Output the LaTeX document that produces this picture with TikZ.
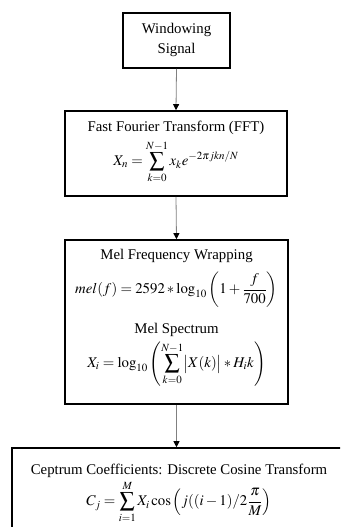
\documentclass[tikz,border=0pt]{standalone}
\usepackage{mathptmx}
\usepackage{fontspec}
\setmainfont{Liberation Serif}
\usetikzlibrary{arrows.meta}
\tikzset{
  blockbox/.style={draw=black, line width=1.6pt, fill=white},
  txt/.style={font=\fontsize{14.8}{16}\selectfont, inner sep=0pt, text=black},
  conn/.style={draw=gray, line width=0.8pt, -{Triangle[black,length=6pt,width=6pt]}}
}
\begin{document}
\begin{tikzpicture}[x=1pt,y=-1pt]
\useasboundingbox (0,0) rectangle (340,527);
\clip (0,0) rectangle (340,527);
\fill[white] (0,0) rectangle (340,527);
% boxes
\node[blockbox, minimum width=107pt, minimum height=55pt, inner sep=0pt] (b1) at (176.5,40.5) {};
\node[blockbox, minimum width=222pt, minimum height=85pt, inner sep=0pt] (b2) at (176,153.5) {};
\node[blockbox, minimum width=223pt, minimum height=164pt, inner sep=0pt] (b3) at (176.5,322) {};
\node[blockbox, minimum width=360pt, minimum height=120pt, inner sep=0pt] (b4) at (192,508) {};
% texts
\node[txt] (t1a) at (176.5,30) {Windowing};
\node[txt] (t1b) at (176.5,50) {Signal};
\node[txt] (t2a) at (176,128) {Fast Fourier Transform (FFT)};
\node[txt] (t2b) at (176,162) {$\displaystyle X_n=\sum_{k=0}^{N-1} x_k e^{-2\pi jkn/N}$};
\node[txt] (t3a) at (176.5,256) {Mel Frequency Wrapping};
\node[txt] (t3b) at (176.5,290) {$\displaystyle mel(f)=2592*\log_{10}\left(1+\frac{f}{700}\right)$};
\node[txt] (t3c) at (176.5,330) {Mel Spectrum};
\node[txt] (t3d) at (176.5,364) {$\displaystyle X_i=\log_{10}\left(\sum_{k=0}^{N-1}\bigl|X(k)\bigr|*H_i k\right)$};
\node[txt] (t4a) at (179,471) {Ceptrum Coefficients: Discrete Cosine Transform};
\node[txt] (t4b) at (179,502) {$\displaystyle C_j=\sum_{i=1}^{M} X_i\cos\left(j((i-1)/2\frac{\pi}{M}\right)$};
% connectors
\draw[conn] (b1.south) -- (b2.north);
\draw[conn] (b2.south) -- (b3.north);
\draw[conn] (b3.south) -- (b3.south |- b4.north);
\end{tikzpicture}
\end{document}
